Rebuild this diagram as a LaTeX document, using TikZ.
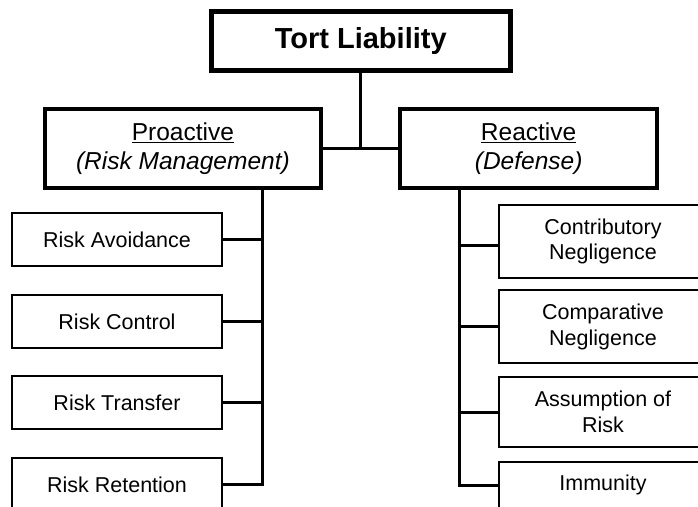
\documentclass[tikz,border=0pt]{standalone}
\usepackage{fontspec}
\setmainfont{Liberation Sans}
\begin{document}
\begin{tikzpicture}[x=1pt,y=1pt,
  topbox/.style={draw, line width=5pt, minimum width=298.5pt, minimum height=59.5pt, inner sep=0pt, font=\fontsize{29}{34}\selectfont\bfseries},
  midbox/.style={draw, line width=4pt, minimum height=79.6pt, inner sep=0pt, align=center, font=\fontsize{24.5}{29}\selectfont},
  leafbox/.style={draw, line width=2pt, inner sep=0pt, align=center, font=\fontsize{21.5}{25.7}\selectfont},
  lleaf/.style={leafbox, minimum width=210pt, minimum height=53pt},
  rleaf/.style={leafbox, minimum width=208pt},
  conn/.style={line width=3pt},
]
\useasboundingbox (0,0) rectangle (698,506);
\clip (0,0) rectangle (698,506);
\fill[white] (0,0) rectangle (698,506);

\node[topbox] (top) at (360.75,464.75) {Tort Liability};
\node[midbox, minimum width=276.3pt] (pro) at (182.9,357.5) {\underline{Proactive}\\\textit{(Risk Management)}};
\node[midbox, minimum width=256.7pt] (rea) at (528.65,357.5) {\underline{Reactive}\\\textit{(Defense)}};

\node[lleaf] (l1) at (117,266) {Risk Avoidance};
\node[lleaf] (l2) at (117,184) {Risk Control};
\node[lleaf] (l3) at (117,103.5) {Risk Transfer};
\node[lleaf] (l4) at (117,21.5) {Risk Retention};

\node[rleaf, minimum height=73pt] (r1) at (603,264.5) {Contributory\\Negligence};
\node[rleaf, minimum height=73pt] (r2) at (603,179.3) {Comparative\\Negligence};
\node[rleaf, minimum height=70pt] (r3) at (603,94) {Assumption of\\Risk};
\node[rleaf, minimum height=46pt] (r4) at (603,21) {Immunity};

\draw[conn] (top.south) -- (top.south |- pro.east);
\draw[conn] (pro.east) -- (rea.west);

\coordinate (lt) at (262,318);
\coordinate (rt) at (459,318);
\draw[conn] (lt) |- (l4.east);
\draw[conn] (l1.east) -- (l1.east -| lt);
\draw[conn] (l2.east) -- (l2.east -| lt);
\draw[conn] (l3.east) -- (l3.east -| lt);

\draw[conn] (rt) |- (r4.west);
\draw[conn] ([yshift=-4.5pt]r1.west) -- ([yshift=-4.5pt]r1.west -| rt);
\draw[conn] (r2.west) -- (r2.west -| rt);
\draw[conn] (r3.west) -- (r3.west -| rt);
\end{tikzpicture}
\end{document}
